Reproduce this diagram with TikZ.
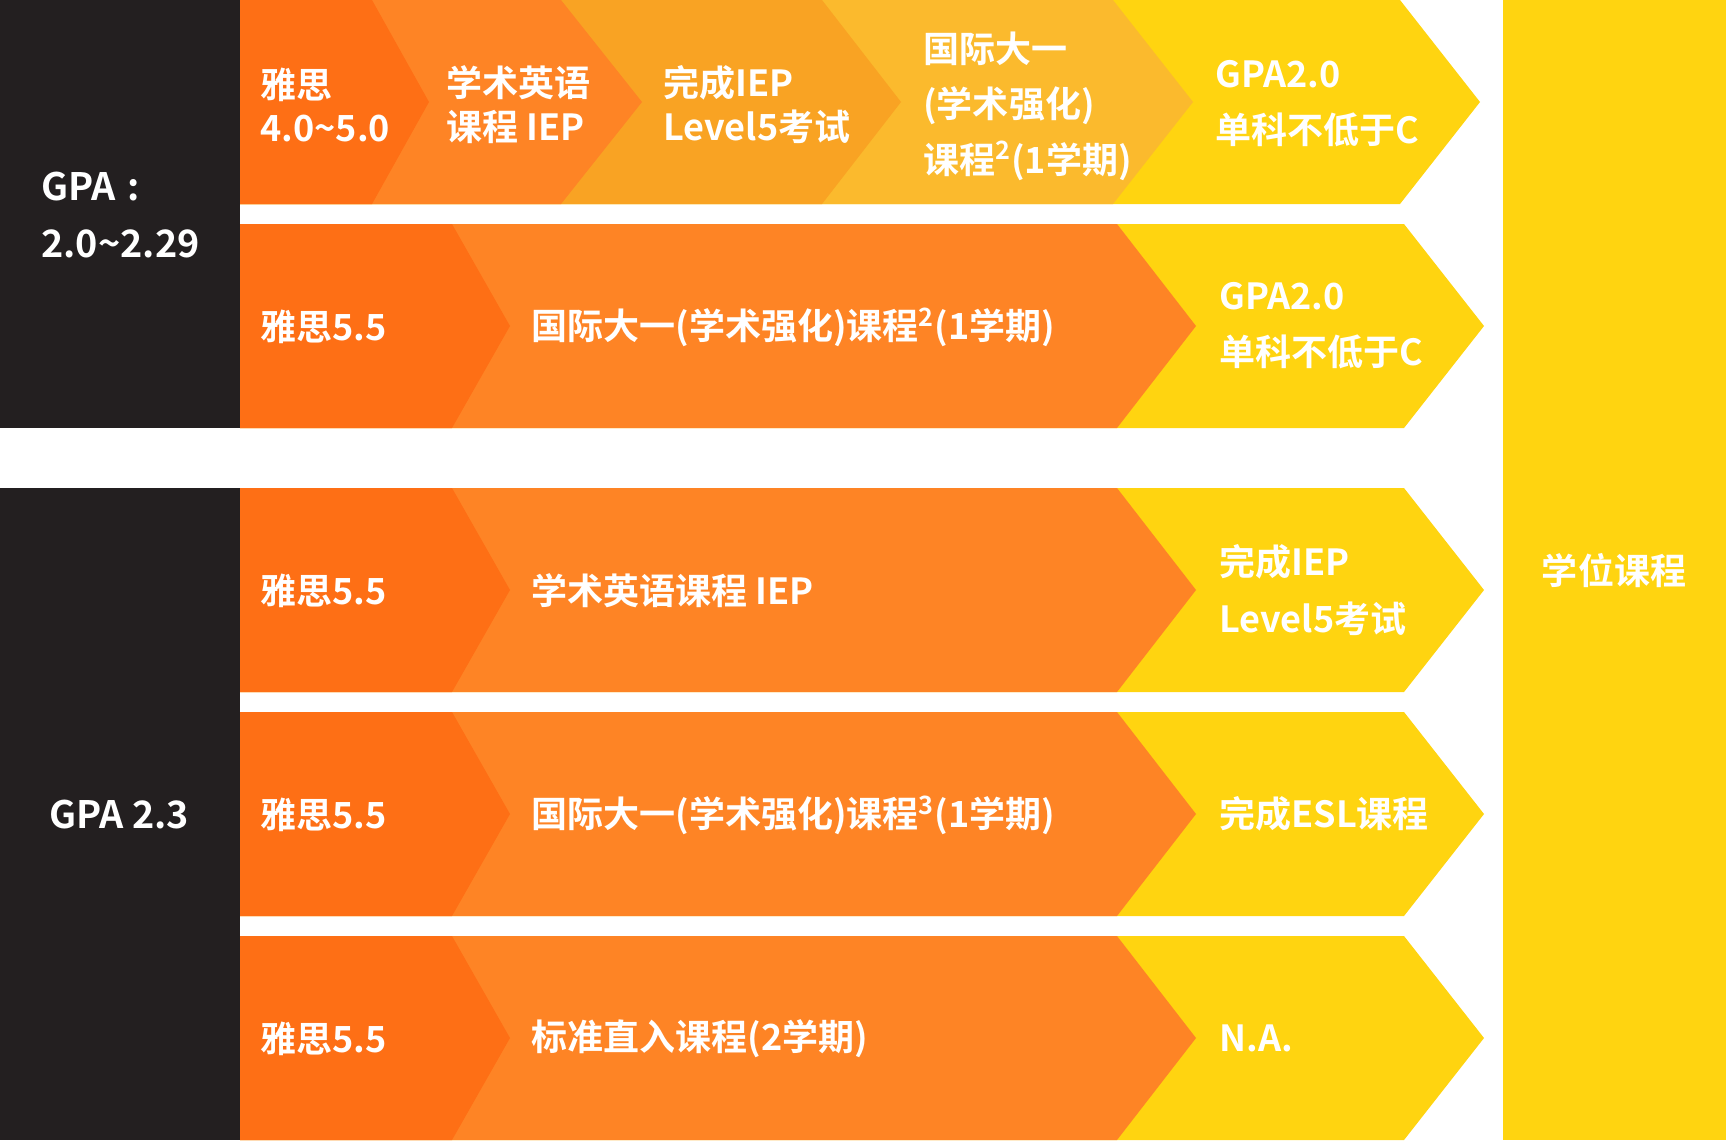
\documentclass[tikz,border=0pt]{standalone}
\usepackage{fontspec}
\setmainfont{Noto Sans CJK SC}[BoldFont={Noto Sans CJK SC Bold}]
\usepackage{xcolor}
\definecolor{gpaNoir}{HTML}{231F20}
\definecolor{ieltsOrange}{HTML}{FE6F15}
\definecolor{coursOrange}{HTML}{FE8425}
\definecolor{iepAmbre}{HTML}{F9A323}
\definecolor{fyAmbre}{HTML}{FBBA2D}
\definecolor{finJaune}{HTML}{FFD410}
\usepackage{tikz}
%% one band of chevrons: #1 top edge, #2 colour/top x/tip x, painted right to left
\newcommand{\bande}[2]{%
  \foreach \coul/\xh/\xp in {#2}
    \fill[\coul] (240,#1) -- (\xh,#1) -- (\xp,#1+102) -- (\xh,#1+204)
                 -- (240,#1+204) -- cycle;}
\tikzset{
  %% ── Text ─────────────────────────────────────────────────────────────
  %% White on every fill; the top band packs two lines into the narrow steps.
  etape/.style      = {text=white, inner sep=0pt, anchor=west, align=left,
                       font=\fontsize{20.5}{32}\selectfont\bfseries},
  etapeSerre/.style = {etape, font=\fontsize{20.5}{25}\selectfont\bfseries},
  gpa/.style        = {etape, font=\fontsize{21.5}{32}\selectfont\bfseries},
}

\begin{document}
\begin{tikzpicture}[x=0.02cm, y=-0.02cm]
\useasboundingbox (0,0) rectangle (1726,1140);

%% GPA column and degree column
\fill[gpaNoir] (0,0) rectangle (240,428);
\fill[gpaNoir] (0,488) rectangle (240,1140);
\fill[finJaune] (1503,0) rectangle (1726,1140);

%% bands
\bande{0}{finJaune/1400/1480, fyAmbre/1113/1193, iepAmbre/822/901,
          coursOrange/561/642, ieltsOrange/372/429}
\foreach \y in {224, 488, 712, 936} {
  \bande{\y}{finJaune/1404/1484, coursOrange/1117/1196, ieltsOrange/452/510}
}

\node[gpa] (gpaBas) at (41,215) {GPA\hspace{0.3em}:\\2.0\textasciitilde2.29};
\node[gpa, anchor=center] (gpaHaut) at (119,815) {GPA 2.3};

%% band 1
\node[etapeSerre] (b1ielts) at (260,105) {雅思\\4.0\textasciitilde5.0};
\node[etapeSerre] (b1iep)   at (446,105) {学术英语\\课程 IEP};
\node[etapeSerre] (b1fin)   at (663,105) {完成IEP\\Level5考试};
\node[etape, font=\fontsize{20.5}{31.5}\selectfont\bfseries] (b1fy) at (923,106)
     {国际大一\\(学术强化)\\课程\textsuperscript{2}(1学期)};
\node[etape] (b1cond) at (1215,104) {GPA2.0\\单科不低于C};

%% bands 2 to 5
\foreach \y/\cours/\cond [count=\i from 2] in {
    326/{国际大一(学术强化)课程\textsuperscript{2}(1学期)}/{GPA2.0\\单科不低于C},
    590/{学术英语课程 IEP}/{完成IEP\\Level5考试},
    814/{国际大一(学术强化)课程\textsuperscript{3}(1学期)}/{完成ESL课程},
    1038/{标准直入课程(2学期)}/{N.A.}} {
  \node[etape] (b\i ielts) at (260,\y+1) {雅思5.5};
  \node[etape] (b\i cours) at (531,\y+1) {\cours};
  \node[etape] (b\i cond)  at (1219,\y) {\cond};
}

\node[etape, anchor=center] (diplome) at (1614,571) {学位课程};

\end{tikzpicture}
\end{document}
